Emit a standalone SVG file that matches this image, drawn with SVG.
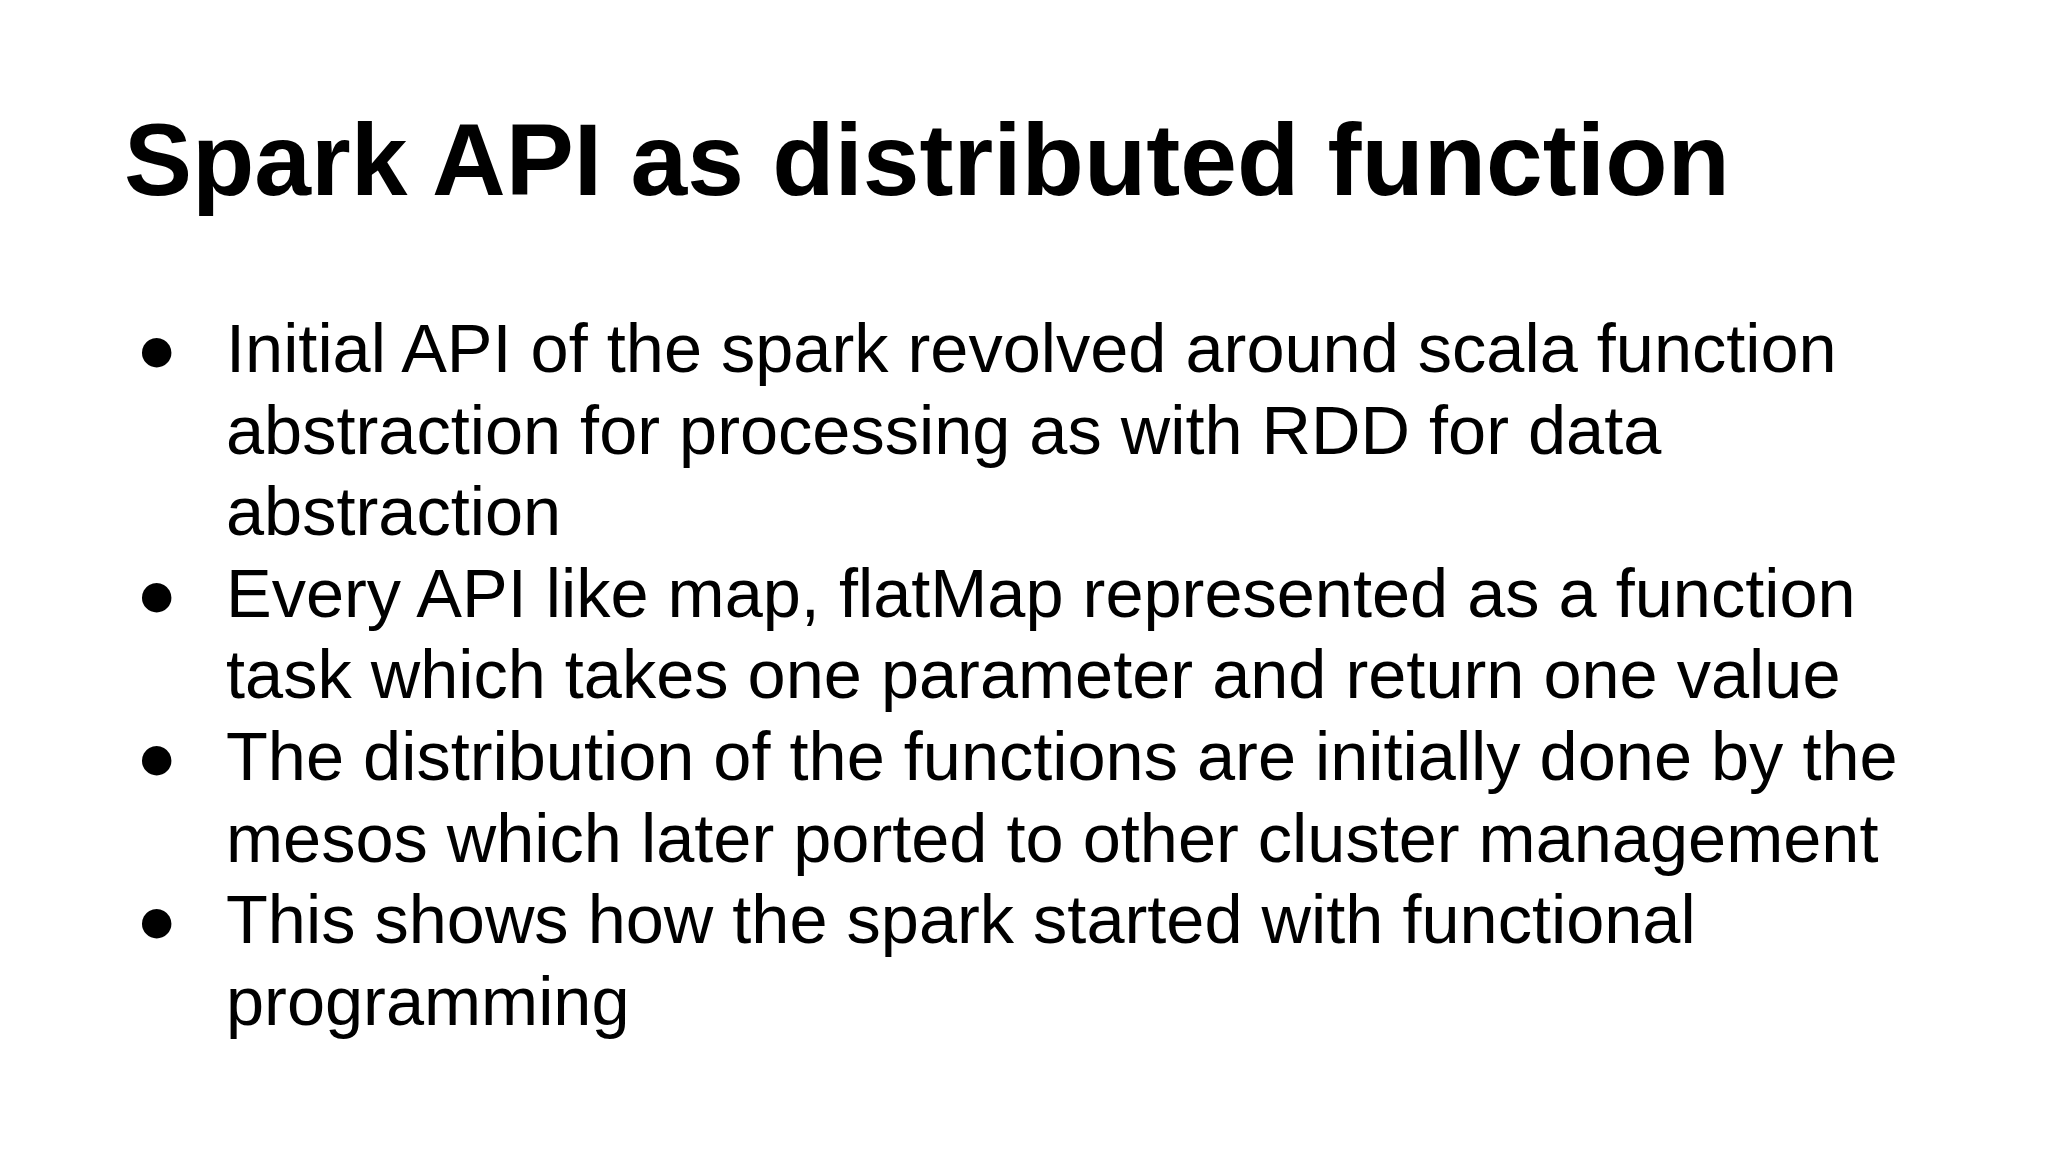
<svg xmlns="http://www.w3.org/2000/svg" width="2048" height="1152" viewBox="0 0 2048 1152">
<style>
.t{font-family:"Liberation Sans",Arial,sans-serif;fill:#000}
.h{font-size:102px;font-weight:bold}
.b{font-size:68.5px}
</style>
<rect width="2048" height="1152" fill="#fff"/>
<g id="title"><text class="t h" x="124" y="195">Spark API as distributed function</text></g>
<g id="bullets" class="t b">
<text x="136" y="372">●</text>
<text x="226" y="372">Initial API of the spark revolved around scala function</text>
<text x="226" y="454">abstraction for processing as with RDD for data</text>
<text x="226" y="535">abstraction</text>
<text x="136" y="617">●</text>
<text x="226" y="617">Every API like map, flatMap represented as a function</text>
<text x="226" y="698">task which takes one parameter and return one value</text>
<text x="136" y="780">●</text>
<text x="226" y="780">The distribution of the functions are initially done by the</text>
<text x="226" y="862">mesos which later ported to other cluster management</text>
<text x="136" y="943">●</text>
<text x="226" y="943">This shows how the spark started with functional</text>
<text x="226" y="1025">programming</text>
</g>
</svg>
